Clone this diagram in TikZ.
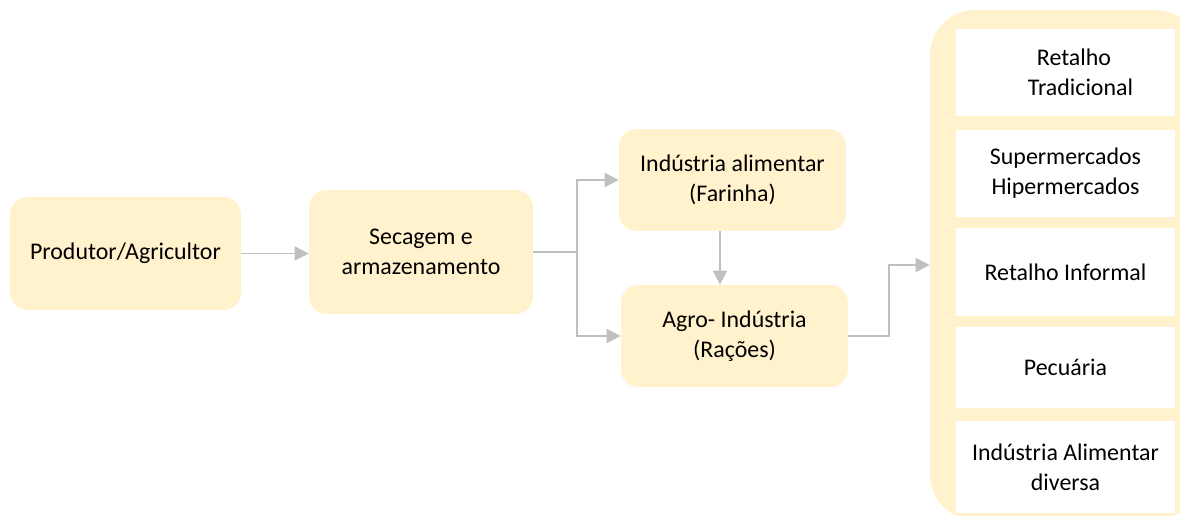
\documentclass[tikz,border=0pt]{standalone}
\usepackage{fontspec}
\setmainfont{Carlito}
\usetikzlibrary{arrows.meta}
\definecolor{boxyellow}{HTML}{FFF2CC}
\definecolor{linegray}{HTML}{BFBFBF}

\begin{document}
\begin{tikzpicture}[
  x=0.02cm, y=-0.02cm,
  font=\fontsize{13.6}{17}\selectfont,
  every node/.style={align=center},
  stage/.style={fill=boxyellow,rounded corners=0.35cm,inner sep=0pt},
  outlet/.style={fill=white,inner sep=0pt,minimum width=4.38cm},
  flow/.style={-{Triangle[length=0.28cm,width=0.28cm]},color=linegray,line width=1pt}]
  \useasboundingbox (0,0) rectangle (1180,516);

  % Position the stages of the chain
  \node[stage,minimum width=4.62cm,minimum height=2.26cm] (Produtor) at (125.5,253.5)
        {Produtor/Agricultor};
  \node[stage,minimum width=4.48cm,minimum height=2.48cm] (Secagem) at (421,252)
        {Secagem e\\armazenamento};
  \node[stage,minimum width=4.54cm,minimum height=2.04cm] (IndAlimentar) at (732.5,180)
        {Indústria alimentar\\(Farinha)};
  \node[stage,minimum width=4.54cm,minimum height=2.04cm] (AgroInd) at (734.5,336)
        {Agro- Indústria\\(Rações)};

  % Sales channels
  \node[stage,rounded corners=0.9cm,minimum width=5.4cm,minimum height=10.2cm] (Channels) at (1065,265) {};
  \node[outlet,minimum height=1.74cm] (RetTrad) at (1065.5,72.5)
        {\hspace*{0.34cm}Retalho\\\hspace*{0.6cm}Tradicional};
  \node[outlet,minimum height=1.74cm] (SuperHiper) at (1065.5,173.5)
        {Supermercados\\Hipermercados};
  \node[outlet,minimum height=1.76cm] (RetInformal) at (1065.5,272)
        {Retalho Informal};
  \node[outlet,minimum height=1.62cm] (Pecuaria) at (1065.5,367.5)
        {Pecuária};
  \node[outlet,minimum height=1.84cm] (IndDiversa) at (1065.5,467)
        {Indústria Alimentar\\diversa};

  % Draw the connectors
  \draw[flow] (Produtor.east)  --  (Secagem.west |- Produtor.east);
  \draw[flow] (Secagem.east)   --  ++(44,0) |- (IndAlimentar.west);
  \draw[flow] (Secagem.east)   --  ++(44,0) |- (AgroInd.west);
  \draw[flow] ([xshift=-0.25cm]IndAlimentar.south) --
              ([xshift=-0.25cm]IndAlimentar.south |- AgroInd.north);
  \draw[flow] (AgroInd.east)   --  ++(41,0) |- (Channels.west);
\end{tikzpicture}
\end{document}
